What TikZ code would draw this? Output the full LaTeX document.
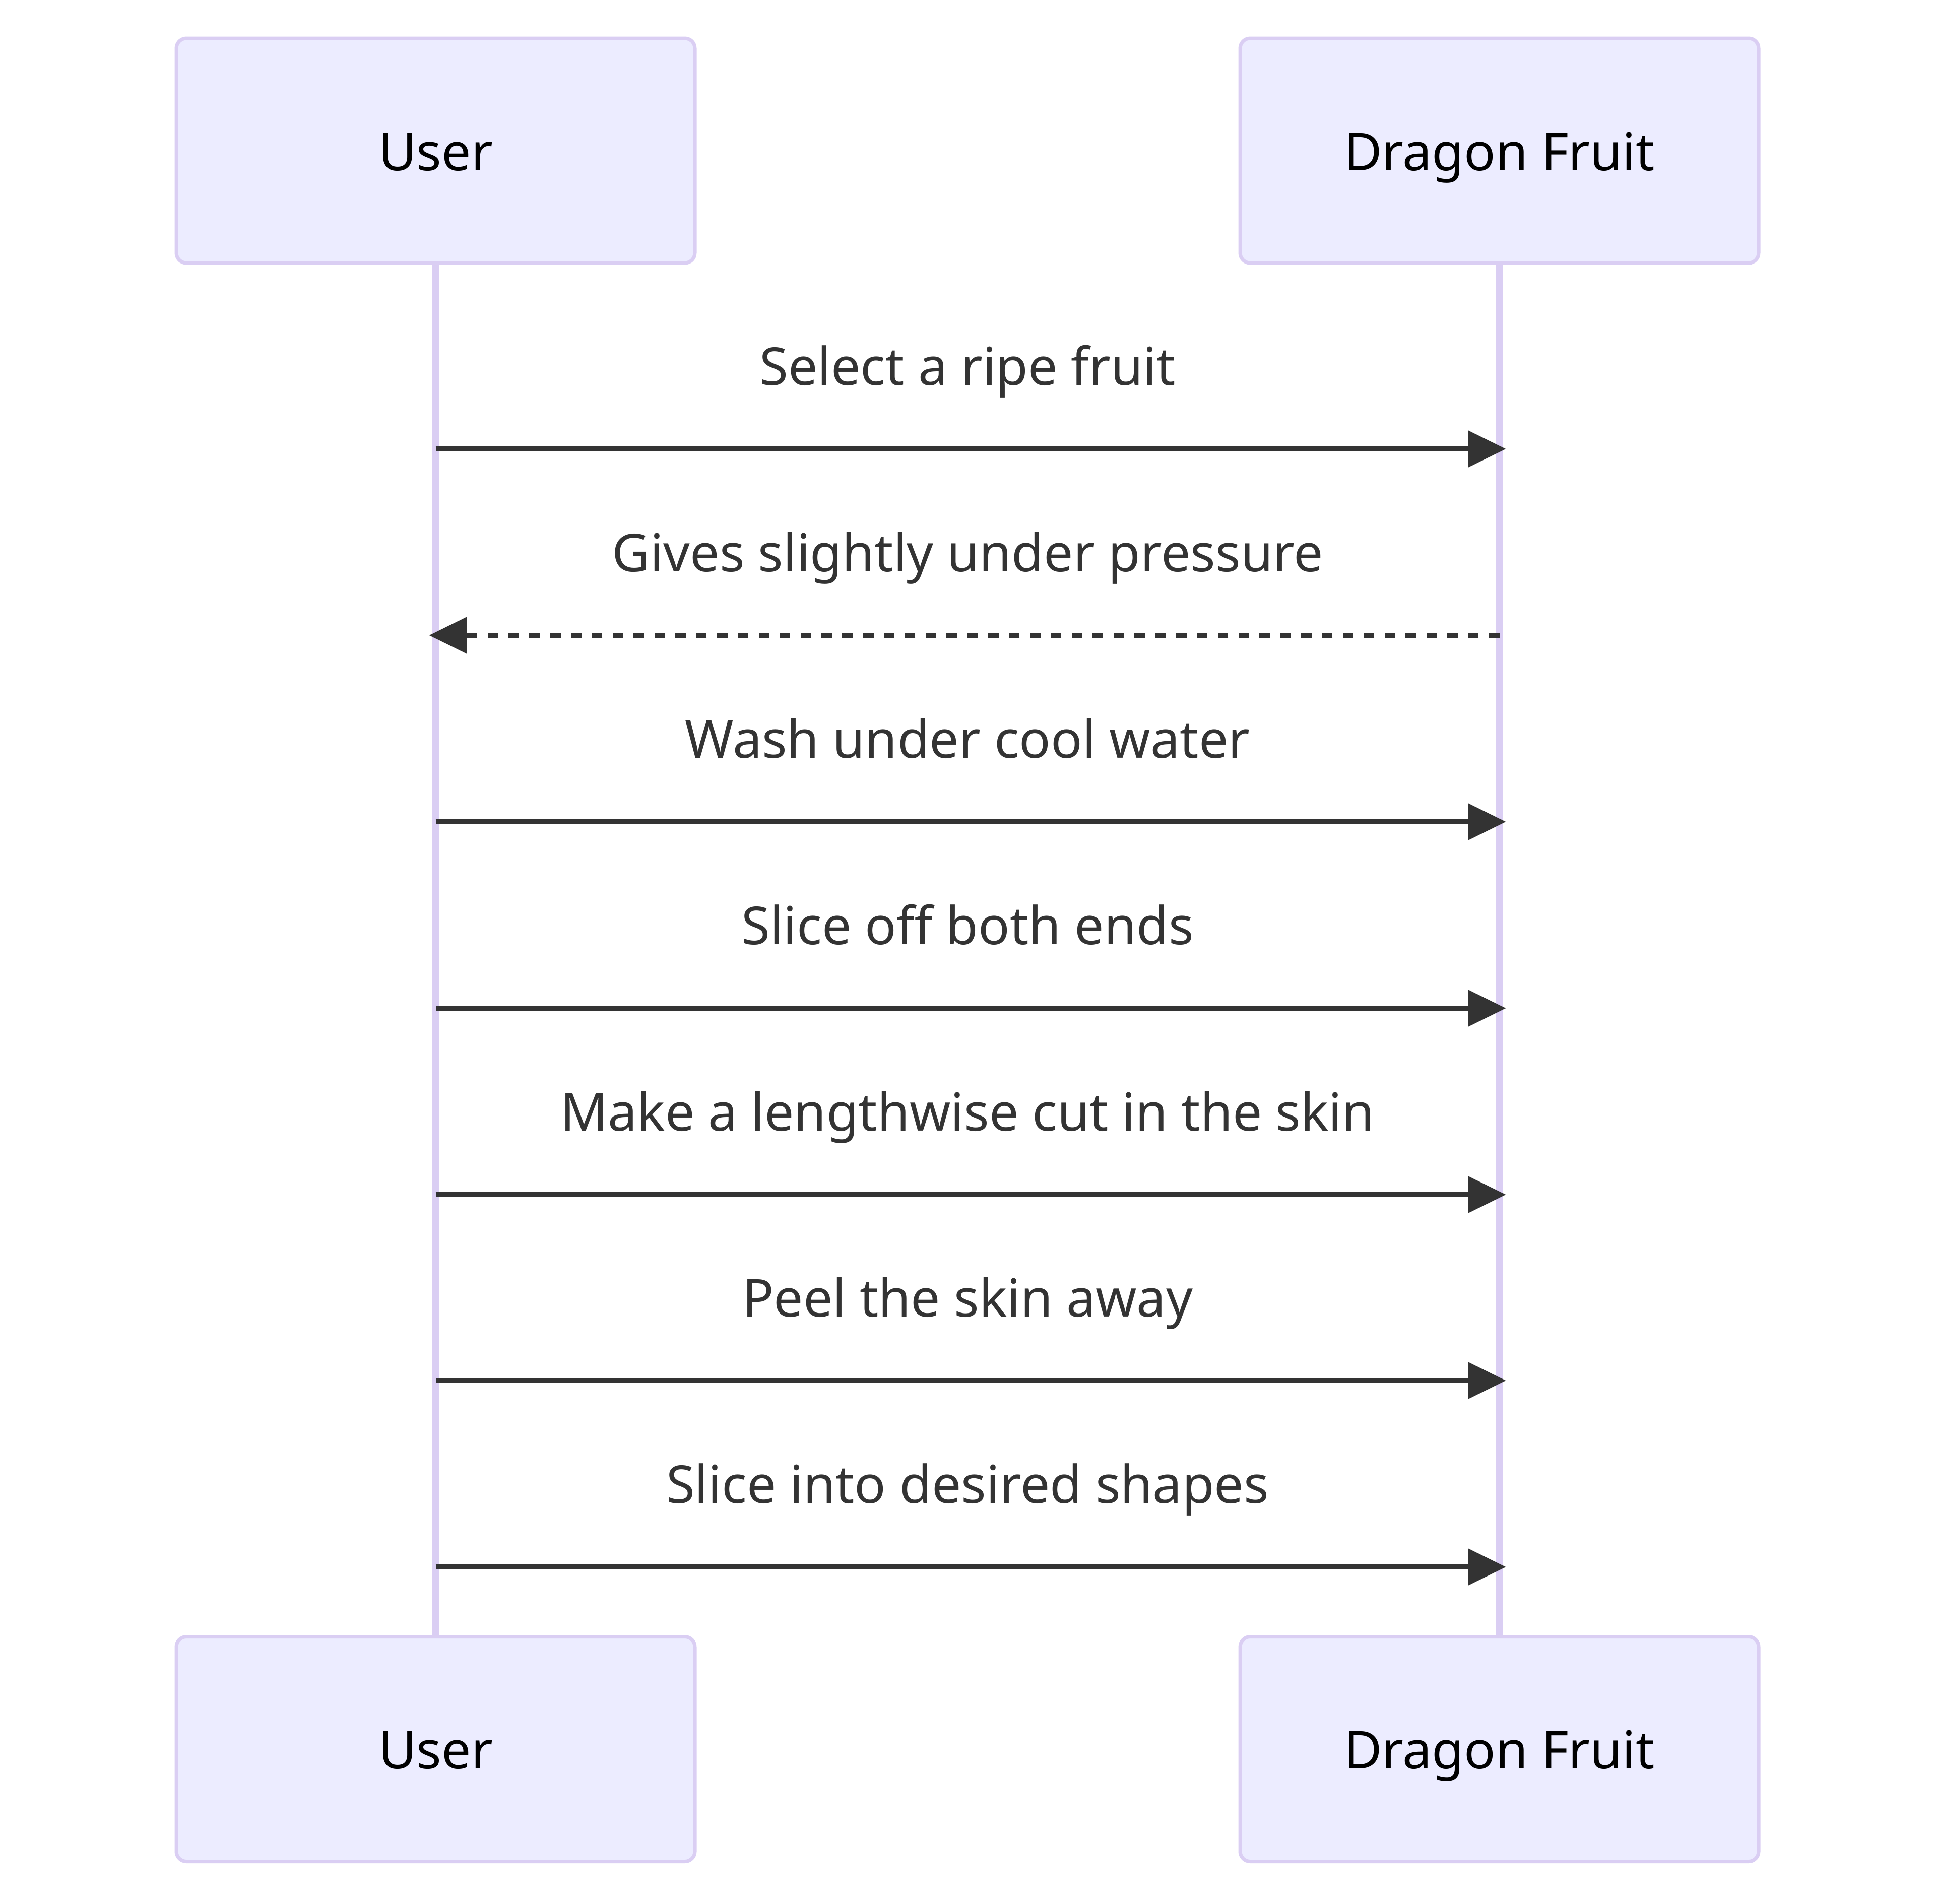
\documentclass[tikz,border=0pt]{standalone}
\usepackage{fontspec}
\setmainfont{Noto Sans}
\usetikzlibrary{arrows.meta}

\definecolor{actorfill}{RGB}{236,236,255}
\definecolor{actorline}{RGB}{218,206,243}
\definecolor{msgcolor}{RGB}{51,51,51}

\tikzset{
    actor/.style={draw=actorline, fill=actorfill, line width=0.07cm, rounded corners=0.2cm,
                  minimum width=10.29cm, minimum height=4.46cm, inner sep=0pt,
                  text height=0.78cm, text depth=0pt, font=\fontsize{29.5}{35}\selectfont},
    life/.style={draw=actorline, line width=0.133cm},
    msg/.style={draw=msgcolor, line width=0.093cm, shorten >=-0.13cm,
                -{Triangle[length=0.75cm, width=0.71cm]}},
    reply/.style={msg, dash pattern=on 0.207cm off 0.207cm},
    msglabel/.style={midway, anchor=base, yshift=1.27cm, text=msgcolor,
                     font=\fontsize{29.5}{35}\selectfont}
}

\begin{document}
\begin{tikzpicture}
            \useasboundingbox (0,0) rectangle (38.4,-37.78);
            \node[actor] (user)   at ( 8.645, -2.99)  {User};
            \node[actor] (fruit)  at (29.755, -2.99)  {Dragon Fruit};
            \node[actor] (userB)  at ( 8.645,-34.715) {User};
            \node[actor] (fruitB) at (29.755,-34.715) {Dragon Fruit};
            \draw[life] (user) -- (userB);
            \draw[life] (fruit) -- (fruitB);
            \coordinate (u1) at ( 8.645, -8.91);  \coordinate (f1) at (29.755, -8.91);
            \coordinate (u2) at ( 8.645,-12.61);  \coordinate (f2) at (29.755,-12.61);
            \coordinate (u3) at ( 8.645,-16.31);  \coordinate (f3) at (29.755,-16.31);
            \coordinate (u4) at ( 8.645,-20.01);  \coordinate (f4) at (29.755,-20.01);
            \coordinate (u5) at ( 8.645,-23.71);  \coordinate (f5) at (29.755,-23.71);
            \coordinate (u6) at ( 8.645,-27.40);  \coordinate (f6) at (29.755,-27.40);
            \coordinate (u7) at ( 8.645,-31.10);  \coordinate (f7) at (29.755,-31.10);
            \draw[msg]   (u1) -- (f1) node[msglabel] (l1) {Select a ripe fruit};
            \draw[reply] (f2) -- (u2) node[msglabel] (l2) {Gives slightly under pressure};
            \draw[msg]   (u3) -- (f3) node[msglabel] (l3) {Wash under cool water};
            \draw[msg]   (u4) -- (f4) node[msglabel] (l4) {Slice off both ends};
            \draw[msg]   (u5) -- (f5) node[msglabel] (l5) {Make a lengthwise cut in the skin};
            \draw[msg]   (u6) -- (f6) node[msglabel] (l6) {Peel the skin away};
            \draw[msg]   (u7) -- (f7) node[msglabel] (l7) {Slice into desired shapes};
\end{tikzpicture}
\end{document}
